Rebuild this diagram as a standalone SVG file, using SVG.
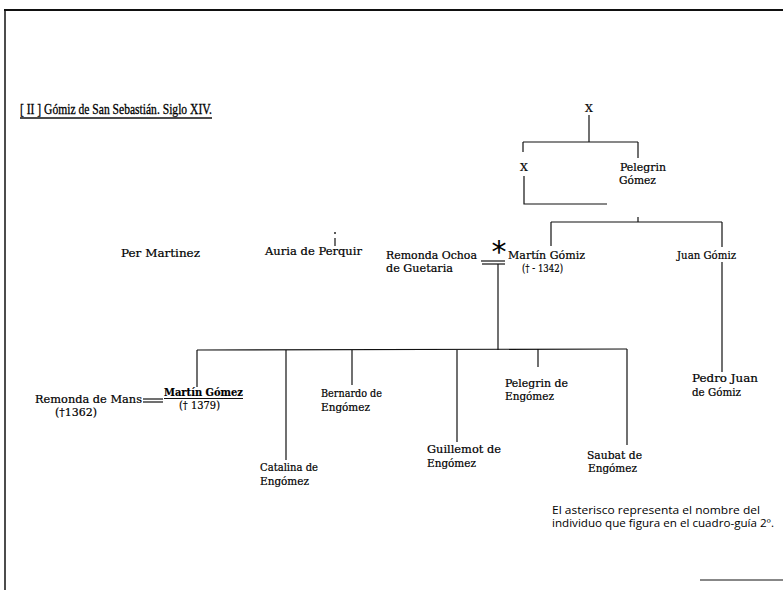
<svg xmlns="http://www.w3.org/2000/svg" width="783" height="590" viewBox="0 0 783 590">
<style>
.t{font-family:"DejaVu Serif","Liberation Serif",serif;font-size:11px;fill:#000;stroke:#000;stroke-width:0.2}
.ti{font-family:"Liberation Serif","DejaVu Serif",serif;font-size:14px;fill:#000;stroke:#000;stroke-width:0.3}
.n{font-family:"Open Sans","Noto Sans",sans-serif;font-size:10px;fill:#000}
.l{stroke:#111;stroke-width:1.2;fill:none}
.b{stroke:#111;fill:none}
</style>
<rect width="783" height="590" fill="#fff"/>
<g id="frame">
<line class="b" x1="4" y1="10" x2="783" y2="10" stroke-width="2"/>
<line class="b" x1="5" y1="10" x2="5" y2="590" stroke-width="1.5"/>
<line class="b" x1="700" y1="580" x2="783" y2="580" stroke-width="1"/>
</g>
<g id="title">
<text class="ti" x="20" y="114" textLength="192" lengthAdjust="spacingAndGlyphs">[ II ] Gómiz de San Sebastián. Siglo XIV.</text>
<line class="b" x1="20" y1="118" x2="212" y2="118" stroke-width="1.6"/>
</g>
<g id="connectors">
<line class="l" x1="589" y1="115" x2="589" y2="142"/>
<line class="l" x1="523" y1="142" x2="638" y2="142"/>
<line class="l" x1="523" y1="142" x2="523" y2="152"/>
<line class="l" x1="638" y1="142" x2="638" y2="158"/>
<polyline class="l" points="524,176 524,204 607,204"/>
<line class="l" x1="638" y1="217" x2="638" y2="222"/>
<line class="l" x1="551" y1="222" x2="722" y2="222"/>
<line class="l" x1="551" y1="222" x2="551" y2="246"/>
<line class="l" x1="722" y1="222" x2="722" y2="247"/>
<line class="l" x1="722" y1="262" x2="722" y2="372"/>
<line class="l" x1="481" y1="261" x2="505" y2="261"/>
<line class="l" x1="482" y1="264" x2="505" y2="264"/>
<line class="l" x1="498" y1="264" x2="498" y2="350"/>
<line class="l" x1="197" y1="350" x2="627" y2="349"/>
<line class="l" x1="197" y1="350" x2="197" y2="387"/>
<line class="l" x1="286" y1="350" x2="286" y2="460"/>
<line class="l" x1="352" y1="350" x2="352" y2="385"/>
<line class="l" x1="457" y1="350" x2="457" y2="442"/>
<line class="l" x1="538" y1="349" x2="538" y2="367"/>
<line class="l" x1="627" y1="349" x2="627" y2="445"/>
<line class="l" x1="143" y1="399" x2="163" y2="399"/>
<line class="l" x1="143" y1="402" x2="163" y2="402"/>
<circle cx="335" cy="233" r="1" fill="#222"/>
<line class="l" x1="335" y1="238" x2="335" y2="246"/>
</g>
<g id="x-top"><text class="t" x="589" y="112" text-anchor="middle">X</text></g>
<g id="x-left"><text class="t" x="524" y="171" text-anchor="middle">X</text></g>
<g id="pelegrin-gomez"><text class="t" x="620" y="171" textLength="46" lengthAdjust="spacingAndGlyphs">Pelegrin</text><text class="t" x="619" y="184" textLength="37" lengthAdjust="spacingAndGlyphs">Gómez</text></g>
<g id="per-martinez"><text class="t" x="121" y="257" textLength="79" lengthAdjust="spacingAndGlyphs">Per Martinez</text></g>
<g id="auria"><text class="t" x="265" y="255" textLength="97" lengthAdjust="spacingAndGlyphs">Auria de Perquir</text></g>
<g id="remonda-ochoa"><text class="t" x="386" y="259" textLength="91" lengthAdjust="spacingAndGlyphs">Remonda Ochoa</text><text class="t" x="386" y="272" textLength="67" lengthAdjust="spacingAndGlyphs">de Guetaria</text></g>
<g id="asterisk"><text x="499" y="262" text-anchor="middle" font-family="DejaVu Sans,sans-serif" font-size="30" fill="#000">*</text></g>
<g id="martin-gomiz"><text class="t" x="508" y="259" textLength="77" lengthAdjust="spacingAndGlyphs">Martín Gómiz</text><text class="t" x="522" y="272" textLength="41" lengthAdjust="spacingAndGlyphs">(† - 1342)</text></g>
<g id="juan-gomiz"><text class="t" x="677" y="259" textLength="59" lengthAdjust="spacingAndGlyphs">Juan Gómiz</text></g>
<g id="pedro-juan"><text class="t" x="692" y="382" textLength="66" lengthAdjust="spacingAndGlyphs">Pedro Juan</text><text class="t" x="692" y="396" textLength="49" lengthAdjust="spacingAndGlyphs">de Gómiz</text></g>
<g id="remonda-mans"><text class="t" x="35" y="403" textLength="107" lengthAdjust="spacingAndGlyphs">Remonda de Mans</text><text class="t" x="55" y="416" textLength="42" lengthAdjust="spacingAndGlyphs">(†1362)</text></g>
<g id="martin-gomez"><text class="t" x="164" y="396" textLength="79" lengthAdjust="spacingAndGlyphs" font-weight="bold">Martín Gómez</text><line class="l" x1="164" y1="398.5" x2="243" y2="398.5"/><text class="t" x="179" y="409" textLength="41" lengthAdjust="spacingAndGlyphs">(† 1379)</text></g>
<g id="bernardo"><text class="t" x="321" y="397" textLength="61" lengthAdjust="spacingAndGlyphs">Bernardo de</text><text class="t" x="321" y="411" textLength="49" lengthAdjust="spacingAndGlyphs">Engómez</text></g>
<g id="catalina"><text class="t" x="260" y="471" textLength="58" lengthAdjust="spacingAndGlyphs">Catalina de</text><text class="t" x="260" y="485" textLength="49" lengthAdjust="spacingAndGlyphs">Engómez</text></g>
<g id="guillemot"><text class="t" x="427" y="453" textLength="74" lengthAdjust="spacingAndGlyphs">Guillemot de</text><text class="t" x="427" y="467" textLength="49" lengthAdjust="spacingAndGlyphs">Engómez</text></g>
<g id="pelegrin-engomez"><text class="t" x="505" y="387" textLength="63" lengthAdjust="spacingAndGlyphs">Pelegrin de</text><text class="t" x="505" y="400" textLength="49" lengthAdjust="spacingAndGlyphs">Engómez</text></g>
<g id="saubat"><text class="t" x="587" y="459" textLength="55" lengthAdjust="spacingAndGlyphs">Saubat de</text><text class="t" x="588" y="472" textLength="49" lengthAdjust="spacingAndGlyphs">Engómez</text></g>
<g id="note"><text class="n" x="552" y="514" textLength="208" lengthAdjust="spacingAndGlyphs">El asterisco representa el nombre del</text><text class="n" x="552" y="527" textLength="222" lengthAdjust="spacingAndGlyphs">individuo que figura en el cuadro-guía 2º.</text></g>
</svg>
